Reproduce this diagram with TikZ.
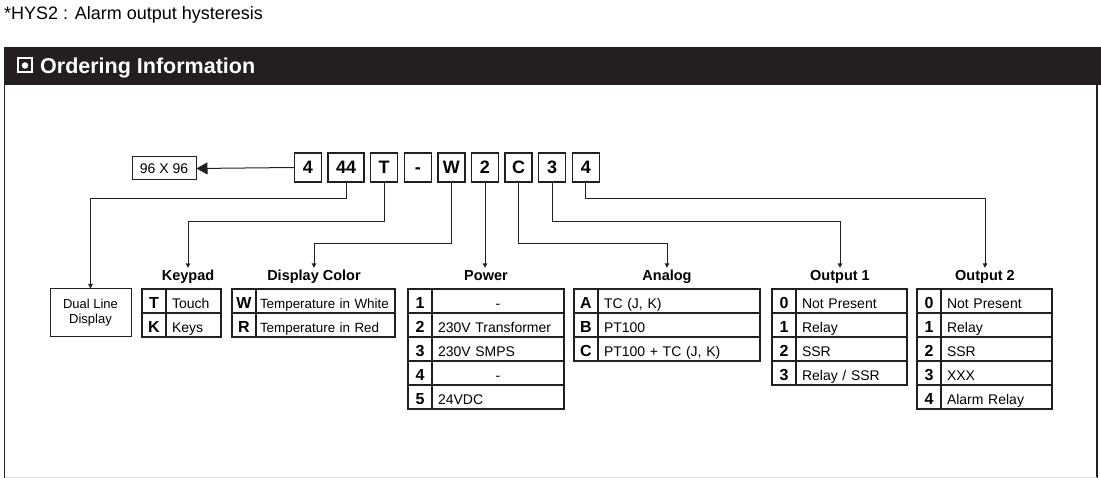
\documentclass[tikz,border=0pt]{standalone}
\usepackage{fontspec}
\setmainfont{Liberation Sans}
\usetikzlibrary{positioning,arrows.meta}
\definecolor{ink}{HTML}{231F20}

\begin{document}
\begin{tikzpicture}[
    x=1pt, y=-1pt,
    node distance=5.2pt,
    codebox/.style={draw=ink, line width=1.4pt, minimum width=27pt, minimum height=29pt,
        inner sep=0pt, text height=12.9pt, text depth=0pt,
        font=\fontsize{18}{20}\selectfont\bfseries},
    keycell/.style={draw=ink, line width=1.2pt, minimum width=24pt, minimum height=24pt,
        inner sep=0pt, outer sep=0pt, anchor=north west, text height=14.5pt, text depth=0pt,
        font=\fontsize{16}{18}\selectfont\bfseries},
    txtcell/.style={draw=ink, line width=1.2pt, minimum height=24pt, inner xsep=6pt,
        inner ysep=0pt, outer sep=0pt, anchor=north west, align=left,
        text height=14.2pt, text depth=0pt, font=\fontsize{14}{16}\selectfont},
    title/.style={font=\fontsize{14.5}{17}\selectfont\bfseries, inner xsep=0pt,
        inner ysep=2.5pt, text height=10.5pt, anchor=base},
    link/.style={ink, line width=1pt},
    linkarrow/.style={link, -{Triangle[length=4.5pt,width=4.5pt]}}
]
\useasboundingbox (0,0) rectangle (1101,478);

% note and header
\node[anchor=base west, inner sep=0pt, font=\fontsize{18}{20}\selectfont] (note) at (4,19.5)
    {*HYS2 : Alarm output hysteresis};
\fill[ink] (4,47) rectangle (1101,85);
\node[draw=white, fill=ink, line width=2pt, minimum size=14pt, inner sep=0pt] (icon) at (25,65.5) {};
\node[circle, fill=white, minimum size=6.5pt, inner sep=0pt] (icondot) at (icon) {};
\node[anchor=base west, inner sep=0pt, text=white, font=\fontsize{21.5}{24}\selectfont\bfseries]
    (head) at (40,73.5) {Ordering Information};
\draw[ink, line width=1.5pt] (4.5,85) -- (4.5,478);
\draw[ink, line width=1.5pt] (1097,85) -- (1097,478);
\draw[black!15, line width=1pt] (4.5,477.5) -- (1097,477.5);

% code boxes
\node[codebox] (c1) at (308,167.5) {4};
\node[codebox, minimum width=36pt, right=of c1] (c2) {44};
\node[codebox, right=of c2] (c3) {T};
\node[codebox, right=of c3] (c4) {-};
\node[codebox, right=of c4] (c5) {W};
\node[codebox, right=of c5] (c6) {2};
\node[codebox, right=of c6] (c7) {C};
\node[codebox, right=of c7] (c8) {3};
\node[codebox, right=of c8] (c9) {4};

\node[draw=ink, line width=1pt, minimum width=64pt, minimum height=23pt, inner sep=0pt,
    font=\fontsize{14}{16}\selectfont] (size) at (164,168.5) {96 X 96};
\draw[link, -{Triangle[length=11pt,width=12pt]}] (c1.west) -- (size.east);

\node[draw=ink, line width=1pt, minimum width=81pt, minimum height=48pt, inner sep=0pt,
    align=center, font=\fontsize{13}{15}\selectfont] (dual) at (90.5,313) {Dual Line\\Display};

% titles
\node[title] (keyT)  at (188,281) {Keypad};
\node[title] (colT)  at (314,281) {Display Color};
\node[title] (pwrT)  at (486,281) {Power};
\node[title] (anaT)  at (667,281) {Analog};
\node[title] (outaT) at (840,281) {Output 1};
\node[title] (outbT) at (985,281) {Output 2};

% tables
\foreach \k/\t [count=\i] in {T/Touch, K/Keys} {
    \node[keycell] (key-l\i) at (142,{289+24*(\i-1)}) {\k};
    \node[txtcell, text width=43pt] (key-t\i) at (key-l\i.north east) {\t};
}
\foreach \k/\t [count=\i] in {W/Temperature in White, R/Temperature in Red} {
    \node[keycell] (col-l\i) at (232,{289+24*(\i-1)}) {\k};
    \node[txtcell, inner xsep=4pt, text width=131pt, font=\fontsize{13.4}{15}\selectfont]
        (col-t\i) at (col-l\i.north east) {\t};
}
\foreach \k/\t [count=\i] in {1/\hfill-\hfill\mbox{}, 2/230V Transformer, 3/230V SMPS,
        4/\hfill-\hfill\mbox{}, 5/24VDC} {
    \node[keycell] (pwr-l\i) at (408,{289+24*(\i-1)}) {\k};
    \node[txtcell, text width=120pt] (pwr-t\i) at (pwr-l\i.north east) {\t};
}
\foreach \k/\t [count=\i] in {A/{TC (J, K)}, B/PT100, C/{PT100 + TC (J, K)}} {
    \node[keycell] (ana-l\i) at (574,{289+24*(\i-1)}) {\k};
    \node[txtcell, text width=150pt] (ana-t\i) at (ana-l\i.north east) {\t};
}
\foreach \k/\t [count=\i] in {0/Not Present, 1/Relay, 2/SSR, 3/{Relay / SSR}} {
    \node[keycell] (outa-l\i) at (772,{289+24*(\i-1)}) {\k};
    \node[txtcell, text width=99pt] (outa-t\i) at (outa-l\i.north east) {\t};
}
\foreach \k/\t [count=\i] in {0/Not Present, 1/Relay, 2/SSR, 3/XXX, 4/Alarm Relay} {
    \node[keycell] (outb-l\i) at (917,{289+24*(\i-1)}) {\k};
    \node[txtcell, text width=99pt] (outb-t\i) at (outb-l\i.north east) {\t};
}

% connectors
\coordinate (lvlA) at (0,199);
\coordinate (lvlB) at (0,222);
\coordinate (lvlC) at (0,244);
\draw[linkarrow] (c2.south) -- (c2.south |- lvlA) -| (dual.north);
\draw[linkarrow] (c3.south) -- (c3.south |- lvlB) -| (keyT.north);
\draw[linkarrow] (c5.south) -- (c5.south |- lvlC) -| (colT.north);
\draw[linkarrow] (c6.south) -- (c6.south |- pwrT.north);
\draw[linkarrow] (c7.south) -- (c7.south |- lvlC) -| (anaT.north);
\draw[linkarrow] (c8.south) -- (c8.south |- lvlB) -| (outaT.north);
\draw[linkarrow] (c9.south) -- (c9.south |- lvlA) -| (outbT.north);
\end{tikzpicture}
\end{document}
